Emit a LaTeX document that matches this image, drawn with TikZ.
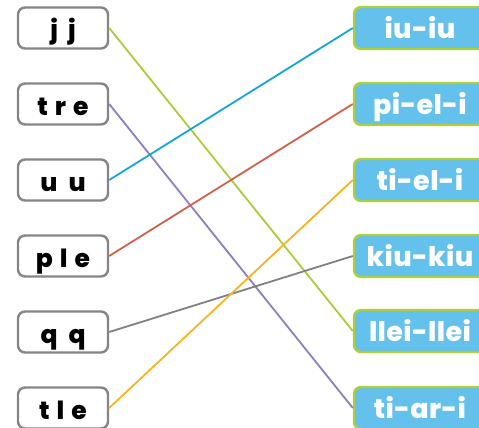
\documentclass[tikz,border=0pt]{standalone}
\usepackage{fontspec}
\setmainfont{Poppins}[UprightFont=* ExtraBold, BoldFont=* ExtraBold]
\newfontfamily\rfont{Poppins}[UprightFont=* ExtraBold, LetterSpace=1.5]
\definecolor{boxgray}{HTML}{858585}
\definecolor{boxgreen}{HTML}{AFCF37}
\definecolor{boxblue}{HTML}{63C1EC}
\definecolor{lgreen}{HTML}{A9CC3C}
\definecolor{lblue}{HTML}{13A6DC}
\definecolor{lred}{HTML}{D2604A}
\definecolor{lpurple}{HTML}{8B7EC2}
\definecolor{lgray}{HTML}{808080}
\definecolor{lorange}{HTML}{F8B320}
\begin{document}
\begin{tikzpicture}[x=1pt,y=1pt,
  lbox/.style={draw=boxgray, line width=2.4pt, rounded corners=7pt, fill=white,
    minimum width=90pt, minimum height=41pt, inner sep=0pt,
    text height=23pt, text depth=1pt,
    font=\fontsize{25}{25}\selectfont, text=black},
  rbox/.style={draw=boxgreen, line width=2.4pt, rounded corners=7pt, fill=boxblue,
    minimum width=132pt, minimum height=42pt, inner sep=0pt,
    text height=22pt, text depth=2pt,
    font=\rfont\fontsize{27}{27}\selectfont, text=white},
  conn/.style={line width=1.8pt}]
\useasboundingbox (0,0) rectangle (479,-428);
\node[lbox] (a) at (63,-28) {j\hskip10pt j};
\node[lbox] (b) at (63,-104) {t\hskip7pt r\hskip7pt e};
\node[lbox] (c) at (63,-180) {u\hskip11pt u};
\node[lbox] (d) at (63,-256) {p\hskip7pt l\hskip7pt e};
\node[lbox] (e) at (63,-332) {q\hskip11pt q};
\node[lbox] (f) at (63,-408) {t\hskip7pt l\hskip7pt e};
\node[rbox] (r1) at (420,-28) {iu-iu};
\node[rbox] (r2) at (420,-104) {pi-el-i};
\node[rbox] (r3) at (420,-180) {ti-el-i};
\node[rbox] (r4) at (420,-256) {kiu-kiu};
\node[rbox] (r5) at (420,-331) {llei-llei};
\node[rbox] (r6) at (420,-408) {ti-ar-i};
\draw[conn, lgreen] (a.east) -- (r5.west);
\draw[conn, lpurple] (b.east) -- (r6.west);
\draw[conn, lblue] (c.east) -- (r1.west);
\draw[conn, lred] (d.east) -- (r2.west);
\draw[conn, lgray] (e.east) -- (r4.west);
\draw[conn, lorange] (f.east) -- (r3.west);
\end{tikzpicture}
\end{document}
